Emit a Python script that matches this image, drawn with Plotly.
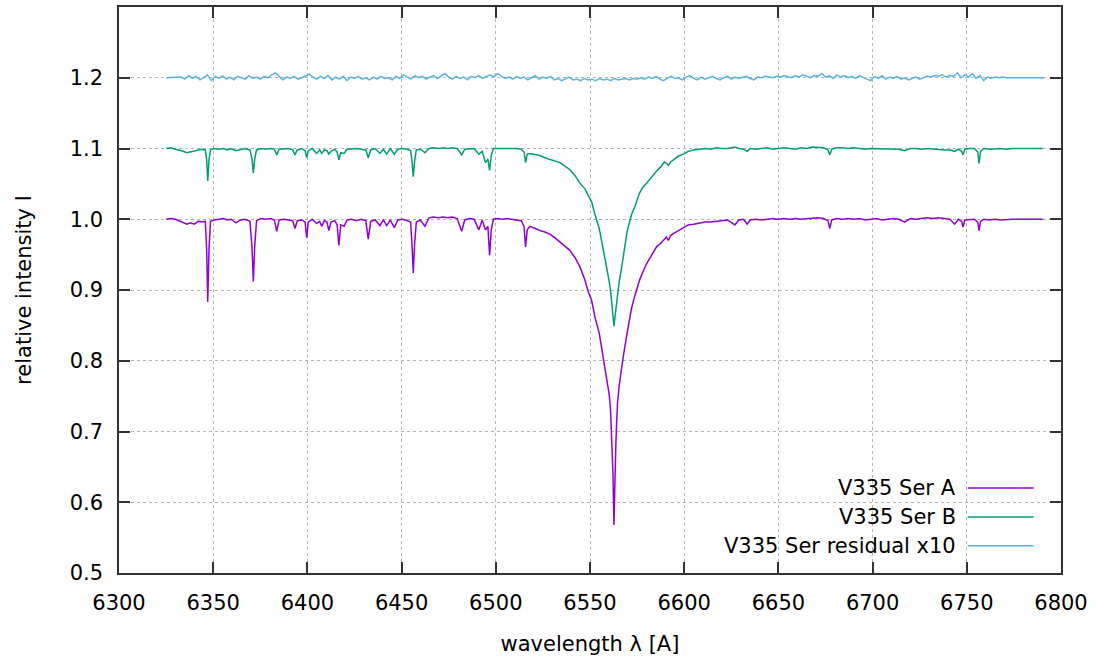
import plotly.graph_objects as go

# ---------------- data ----------------
# wavelength grid [A] for the two component spectra
wavelength_ab = [
    6325.0, 6327.5, 6330.0, 6332.0, 6334.0, 6336.0, 6338.0, 6340.0, 6342.0, 6344.0, 6345.8, 6346.5, 6347.1, 6347.8, 6348.6,
    6350.5, 6353.0, 6355.5, 6357.5, 6359.5, 6362.0, 6364.5, 6367.0, 6369.5, 6370.6, 6371.3, 6372.0, 6373.0,
    6375.5, 6378.0, 6380.5, 6382.5, 6383.7, 6385.0, 6387.5, 6390.0, 6392.2, 6393.4, 6394.6, 6397.0, 6398.8, 6399.6, 6400.5,
    6402.5, 6404.9, 6406.5, 6407.6, 6409.0, 6410.4, 6411.4, 6412.5, 6414.5, 6415.8, 6416.7, 6417.7, 6419.5,
    6421.0, 6423.5, 6426.0, 6428.5, 6431.0, 6432.3, 6433.6, 6436.0, 6438.5, 6440.3, 6442.1, 6444.0, 6446.1, 6448.0,
    6450.5, 6453.0, 6454.8, 6455.6, 6456.2, 6456.9, 6457.8, 6460.0, 6462.4, 6464.5, 6467.0, 6469.5, 6472.0, 6474.5, 6477.0, 6479.5,
    6481.9, 6483.5, 6486.0, 6488.5, 6491.0, 6492.8, 6494.5, 6495.8, 6496.7, 6497.6, 6498.7, 6501.0, 6503.5, 6506.0, 6508.5, 6511.0, 6513.5, 6515.0, 6515.8, 6516.7, 6518.1,
    6521.0, 6523.4, 6526.0, 6528.7, 6531.3, 6534.0, 6536.7, 6539.3, 6542.0, 6544.6, 6547.3, 6549.0, 6550.8, 6552.6, 6554.9, 6557.9, 6559.4, 6560.2,
    6560.9, 6561.3, 6561.7, 6562.2, 6562.7, 6563.2, 6563.7, 6564.1, 6564.6, 6565.5, 6566.8, 6567.6, 6569.7,
    6572.1, 6573.8, 6576.3, 6578.0, 6580.0, 6582.0, 6585.3, 6587.5, 6589.5, 6590.6, 6591.6, 6592.8, 6594.5, 6596.8, 6599.5, 6602.1,
    6605.0, 6608.3, 6611.0, 6614.0, 6617.0, 6620.0, 6623.0, 6626.9, 6629.0, 6631.5, 6633.4, 6635.0, 6638.0, 6641.0, 6644.0,
    6647.0, 6650.0, 6653.0, 6656.0, 6659.0, 6662.0, 6665.0, 6668.0, 6671.0, 6674.0, 6676.3, 6677.3, 6678.3, 6681.0,
    6684.0, 6687.0, 6690.0, 6693.0, 6696.0, 6699.0, 6702.0, 6705.0, 6708.0, 6711.0, 6714.0, 6717.0, 6720.0, 6723.0,
    6726.0, 6729.0, 6732.0, 6735.0, 6738.0, 6741.0, 6743.6, 6745.5, 6747.3, 6748.0, 6749.0, 6751.5, 6754.0, 6755.8, 6756.5, 6757.3,
    6759.0, 6762.0, 6765.0, 6768.0, 6771.0, 6774.0, 6778.0, 6782.0, 6786.0, 6790.3,
]

# relative intensity of component A
flux_a = [
    1.000, 1.001, 1.000, 0.998, 0.995, 0.993, 0.995, 0.993, 0.997, 0.996, 0.997, 0.960, 0.883, 0.960, 0.997,
    0.999, 1.000, 1.001, 0.999, 1.000, 0.995, 0.999, 1.000, 0.997, 0.960, 0.912, 0.960, 0.998,
    1.001, 1.000, 1.001, 0.999, 0.983, 0.999, 1.000, 0.999, 0.998, 0.987, 0.998, 0.999, 0.996, 0.974, 0.996,
    1.000, 0.994, 0.997, 0.990, 0.998, 0.996, 0.984, 0.996, 0.998, 0.992, 0.963, 0.992, 0.990,
    0.999, 1.000, 0.998, 1.000, 0.998, 0.972, 0.997, 0.999, 0.991, 0.999, 0.991, 0.999, 0.988, 0.999,
    1.000, 0.998, 0.996, 0.960, 0.924, 0.965, 0.996, 0.999, 0.990, 1.002, 1.003, 1.002, 1.003, 1.002, 1.003, 1.001,
    0.983, 0.999, 1.001, 1.000, 0.985, 0.999, 0.985, 0.990, 0.949, 0.985, 1.000, 1.001, 1.000, 1.001, 1.000, 0.999, 0.998, 0.990, 0.961, 0.985, 0.990,
    0.987, 0.984, 0.982, 0.979, 0.974, 0.968, 0.962, 0.956, 0.946, 0.933, 0.914, 0.898, 0.886, 0.862, 0.839, 0.791, 0.770, 0.752,
    0.730, 0.705, 0.680, 0.640, 0.568, 0.640, 0.680, 0.710, 0.740, 0.765, 0.791, 0.805, 0.839,
    0.875, 0.892, 0.914, 0.925, 0.937, 0.946, 0.961, 0.966, 0.972, 0.975, 0.970, 0.977, 0.980, 0.984, 0.988, 0.992,
    0.993, 0.995, 0.996, 0.996, 0.997, 0.998, 0.999, 0.992, 0.999, 1.000, 0.993, 0.999, 1.000, 0.999, 1.000,
    1.001, 1.000, 1.001, 1.000, 1.001, 1.000, 1.001, 1.001, 1.002, 1.001, 0.998, 0.987, 0.999, 1.001,
    1.000, 1.001, 1.000, 1.001, 0.999, 1.000, 1.001, 0.999, 1.000, 1.001, 1.000, 0.996, 1.001, 1.000,
    1.001, 1.002, 1.001, 1.002, 1.001, 1.000, 0.993, 1.000, 0.997, 0.989, 0.999, 1.000, 1.000, 0.996, 0.984, 0.997,
    1.000, 0.999, 1.000, 0.999, 1.000, 1.000, 1.000, 1.000, 1.000, 1.000,
]

# relative intensity of component B (normalised to 1.0)
flux_b = [
    1.000, 1.001, 0.999, 0.998, 0.996, 0.994, 0.995, 0.996, 0.998, 0.999, 0.998, 0.985, 0.954, 0.985, 0.998,
    1.000, 0.999, 1.000, 0.998, 1.000, 0.997, 0.999, 1.000, 0.998, 0.985, 0.965, 0.985, 0.998,
    1.000, 0.999, 1.000, 0.999, 0.991, 0.999, 1.000, 1.000, 0.998, 0.991, 0.998, 1.000, 0.997, 0.987, 0.997,
    1.000, 0.993, 0.998, 0.993, 0.998, 0.997, 0.992, 0.996, 0.999, 0.995, 0.984, 0.994, 0.993,
    0.999, 1.000, 1.000, 0.999, 0.998, 0.987, 0.998, 1.000, 0.993, 0.999, 0.992, 1.000, 0.992, 0.999,
    1.000, 0.999, 0.997, 0.980, 0.960, 0.982, 0.998, 0.999, 0.994, 1.000, 1.001, 1.000, 1.001, 1.000, 1.001, 1.000,
    0.991, 0.999, 1.000, 1.000, 0.992, 0.996, 0.980, 0.985, 0.969, 0.990, 1.000, 1.000, 1.001, 1.000, 1.000, 1.000, 0.999, 0.995, 0.980, 0.992, 0.993,
    0.991, 0.990, 0.987, 0.985, 0.982, 0.980, 0.975, 0.970, 0.962, 0.951, 0.943, 0.935, 0.925, 0.907, 0.887, 0.845, 0.825, 0.812,
    0.799, 0.790, 0.779, 0.763, 0.749, 0.762, 0.772, 0.779, 0.790, 0.812, 0.832, 0.845, 0.883,
    0.907, 0.918, 0.937, 0.945, 0.951, 0.958, 0.968, 0.974, 0.981, 0.979, 0.976, 0.981, 0.984, 0.989, 0.992, 0.996,
    0.998, 0.999, 1.000, 0.999, 1.001, 1.000, 1.000, 1.002, 1.000, 0.999, 0.996, 1.000, 0.999, 1.000, 1.001,
    0.999, 1.000, 1.001, 1.000, 0.999, 1.001, 1.000, 1.002, 1.002, 1.001, 0.998, 0.991, 0.999, 1.001,
    1.001, 1.000, 1.001, 1.000, 0.999, 1.000, 1.000, 0.999, 1.000, 1.000, 0.999, 0.997, 1.000, 1.000,
    0.999, 1.000, 0.999, 0.999, 0.998, 0.998, 0.996, 0.999, 0.996, 0.991, 0.999, 1.000, 1.000, 0.995, 0.979, 0.996,
    1.000, 0.999, 1.000, 1.000, 0.999, 1.000, 1.000, 1.000, 1.000, 1.000,
]

# wavelength grid [A] of the residual
wavelength_res = [
    6325, 6327, 6329, 6331, 6333, 6335, 6337, 6339, 6341, 6343, 6345, 6347, 6349,
    6351, 6353, 6355, 6357, 6359, 6361, 6363, 6365, 6367, 6369, 6371, 6373, 6375,
    6377, 6379, 6381, 6383, 6385, 6387, 6389, 6391, 6393, 6395, 6397, 6399, 6401,
    6403, 6405, 6407, 6409, 6411, 6413, 6415, 6417, 6419, 6421, 6423, 6425, 6427,
    6429, 6431, 6433, 6435, 6437, 6439, 6441, 6443, 6445, 6447, 6449, 6451, 6453,
    6455, 6457, 6459, 6461, 6463, 6465, 6467, 6469, 6471, 6473, 6475, 6477, 6479,
    6481, 6483, 6485, 6487, 6489, 6491, 6493, 6495, 6497, 6499, 6501, 6503, 6505,
    6507, 6509, 6511, 6513, 6515, 6517, 6519, 6521, 6523, 6525, 6527, 6529, 6531,
    6533, 6535, 6537, 6539, 6541, 6543, 6545, 6547, 6549, 6551, 6553, 6555, 6557,
    6559, 6561, 6563, 6565, 6567, 6569, 6571, 6573, 6575, 6577, 6579, 6581, 6583,
    6585, 6587, 6589, 6591, 6593, 6595, 6597, 6599, 6601, 6603, 6605, 6607, 6609,
    6611, 6613, 6615, 6617, 6619, 6621, 6623, 6625, 6627, 6629, 6631, 6633, 6635,
    6637, 6639, 6641, 6643, 6645, 6647, 6649, 6651, 6653, 6655, 6657, 6659, 6661,
    6663, 6665, 6667, 6669, 6671, 6673, 6675, 6677, 6679, 6681, 6683, 6685, 6687,
    6689, 6691, 6693, 6695, 6697, 6699, 6701, 6703, 6705, 6707, 6709, 6711, 6713,
    6715, 6717, 6719, 6721, 6723, 6725, 6727, 6729, 6731, 6733, 6735, 6737, 6739,
    6741, 6743, 6745, 6747, 6749, 6751, 6753, 6755, 6757, 6759, 6761, 6763, 6765,
    6767, 6769, 6771, 6773, 6775, 6777, 6779, 6781, 6783, 6785, 6787, 6789, 6791,
]

# residual (already multiplied by 10), deviation from zero
residual_x10 = [
    0.000, 0.000, 0.000, 0.000, 0.001, -0.002, 0.003, -0.001, 0.002, -0.003, 0.001, 0.004, -0.004,
    0.002, -0.001, 0.003, -0.002, 0.001, -0.003, 0.002, 0.000, -0.002, 0.003, -0.001, 0.001, -0.002,
    0.002, 0.000, 0.004, 0.007, 0.002, -0.003, 0.001, -0.001, 0.002, -0.002, 0.000, 0.003, 0.005,
    0.001, -0.002, 0.002, -0.001, 0.003, -0.003, 0.001, -0.002, 0.002, -0.004, 0.001, -0.001, 0.002,
    -0.002, 0.000, -0.003, 0.001, -0.002, 0.002, -0.001, 0.000, -0.003, 0.002, -0.001, 0.004, 0.001,
    -0.002, 0.003, 0.000, 0.002, -0.002, 0.001, 0.003, -0.001, 0.002, 0.006, 0.001, -0.002, 0.002,
    -0.001, 0.001, -0.003, 0.002, 0.000, 0.003, -0.001, 0.002, 0.004, 0.001, 0.006, 0.002, -0.001,
    0.001, -0.002, 0.002, -0.001, 0.001, -0.003, 0.000, 0.003, -0.002, 0.001, -0.001, 0.002, -0.003,
    -0.001, -0.004, -0.002, 0.001, -0.003, -0.002, -0.004, -0.001, -0.003, -0.002, -0.004, -0.001, -0.003,
    -0.002, -0.004, -0.001, -0.003, -0.002, -0.001, -0.003, -0.001, -0.002, 0.000, -0.002, 0.001, -0.001,
    0.002, -0.002, -0.004, -0.001, 0.002, -0.001, 0.000, -0.003, 0.001, 0.003, -0.001, -0.003, 0.001,
    -0.002, 0.000, 0.002, -0.001, -0.003, 0.000, 0.002, -0.002, 0.001, -0.001, 0.000, 0.002, -0.001,
    -0.003, 0.001, 0.000, 0.002, 0.001, 0.000, 0.002, 0.001, 0.003, 0.002, 0.000, 0.003, 0.001,
    0.004, 0.002, 0.000, 0.003, 0.002, 0.006, 0.001, 0.003, -0.001, 0.004, 0.001, 0.003, 0.000,
    0.002, -0.001, 0.003, 0.000, -0.002, -0.004, 0.002, -0.001, 0.003, -0.002, 0.001, -0.001, 0.002,
    -0.002, 0.000, -0.003, -0.001, 0.001, -0.002, 0.000, 0.002, 0.001, 0.003, 0.002, 0.004, 0.001,
    0.003, 0.002, 0.007, 0.000, 0.004, 0.001, 0.006, -0.001, 0.003, -0.004, 0.001, -0.001, 0.001,
    0.000, 0.001, 0.000, 0.000, 0.000, 0.000, 0.000, 0.000, 0.000, 0.000, 0.000, 0.000, 0.000,
]

series_names = ["V335 Ser A", "V335 Ser B", "V335 Ser residual x10"]
y_tick_values = [0.5, 0.6, 0.7, 0.8, 0.9, 1.0, 1.1, 1.2]

if not (len(wavelength_ab) == len(flux_a) == len(flux_b)):
    raise ValueError(f"length mismatch {len(wavelength_ab)} {len(flux_a)} {len(flux_b)}")
if len(wavelength_res) != len(residual_x10):
    raise ValueError(f"length mismatch {len(wavelength_res)} {len(residual_x10)}")

# ---------------- styling ----------------
OFFSET_B = 0.1
OFFSET_RES = 1.2
COLORS = ["#9400D3", "#009E73", "#56B4E9"]
FONT = "DejaVu Sans"
FS = 21

fig = go.Figure()
fig.add_trace(go.Scatter(x=wavelength_ab, y=flux_a, mode="lines", name=series_names[0],
                         line=dict(color=COLORS[0], width=1.5), showlegend=False))
fig.add_trace(go.Scatter(x=wavelength_ab, y=[v + OFFSET_B for v in flux_b], mode="lines",
                         name=series_names[1], line=dict(color=COLORS[1], width=1.5), showlegend=False))
fig.add_trace(go.Scatter(x=wavelength_res, y=[v + OFFSET_RES for v in residual_x10], mode="lines",
                         name=series_names[2], line=dict(color=COLORS[2], width=1.5), showlegend=False))

axis_common = dict(
    ticks="inside", ticklen=11, tickwidth=1.5, tickcolor="#333333",
    showline=True, linecolor="#333333", linewidth=1.5, mirror="ticks",
    showgrid=True, gridcolor="#b4b4b4", griddash="dot", gridwidth=1,
    zeroline=False, tickfont=dict(family=FONT, size=FS, color="black"),
)

fig.update_layout(
    width=1105, height=659,
    margin=dict(l=119, r=44, t=5, b=86),
    paper_bgcolor="white", plot_bgcolor="white",
    font=dict(family=FONT, size=FS, color="black"),
    showlegend=False,
    xaxis=dict(range=[6300, 6800], tick0=6300, dtick=50,
               title=dict(text="wavelength λ [A]", standoff=22, font=dict(family=FONT, size=FS)),
               ticklabelstandoff=10, **axis_common),
    yaxis=dict(range=[0.5, 1.3], tickvals=y_tick_values, tickformat=".1f",
               title=dict(text="relative intensity I", standoff=32, font=dict(family=FONT, size=FS)),
               ticklabelstandoff=10, **axis_common),
)

# key box (opaque, hides the grid behind it) drawn in gnuplot style: text right, sample line after
fig.add_shape(type="rect", xref="x domain", yref="y domain", x0=0.588, x1=0.998, y0=0.002, y1=0.174,
              fillcolor="white", line=dict(width=0), layer="below")
key_rows = [0.150, 0.099, 0.048]
for name, color, yk in zip(series_names, COLORS, key_rows):
    fig.add_annotation(xref="x domain", yref="y domain", x=0.891, y=yk, text=name, showarrow=False,
                       xanchor="right", yanchor="middle", font=dict(family=FONT, size=FS, color="black"))
    fig.add_shape(type="line", xref="x domain", yref="y domain", x0=0.901, x1=0.971, y0=yk, y1=yk,
                  line=dict(color=color, width=1.5))

fig.write_html("out.html", config={"displayModeBar": False},
               post_script="document.body.style.margin='0';")
